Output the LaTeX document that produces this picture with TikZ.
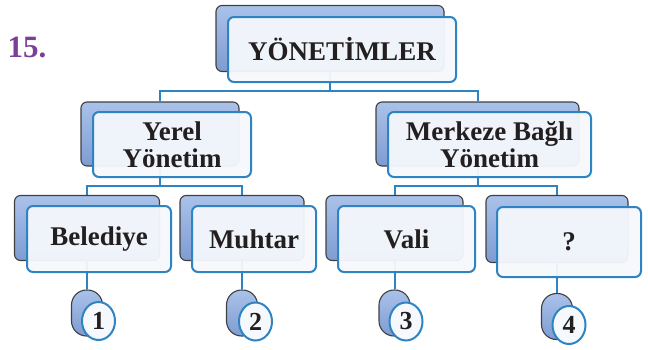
\documentclass[tikz,border=0pt]{standalone}
\usepackage{fontspec}
\setmainfont{Liberation Serif}
\usetikzlibrary{backgrounds}
\definecolor{ramka}{RGB}{46,132,195}
\definecolor{arkaust}{RGB}{170,194,234}
\definecolor{arkaalt}{RGB}{126,156,210}
\definecolor{onzemin}{RGB}{245,248,252}
\definecolor{yazi}{RGB}{35,31,32}
\definecolor{mor}{RGB}{122,64,152}
\tikzset{
  arka/.style={draw=black!75, line width=1.1pt, rounded corners=6pt,
    top color=arkaust, bottom color=arkaalt, inner sep=0pt},
  on/.style={draw=ramka, line width=2pt, rounded corners=6pt, fill=onzemin,
    fill opacity=.95, text opacity=1, inner sep=0pt, text=yazi, align=center,
    font=\fontsize{27}{27}\selectfont\bfseries},
  arkadaire/.style={arka, rounded corners=15pt, minimum width=31pt, minimum height=46pt},
  ondaire/.style={on, ellipse, minimum width=33pt, minimum height=38pt, fill opacity=1,
    font=\fontsize{26}{26}\selectfont\bfseries},
  hat/.style={draw=ramka, line width=2pt}
}
\usetikzlibrary{shapes.geometric}
\begin{document}
\begin{tikzpicture}[x=1pt,y=-1pt]
        \useasboundingbox (0,0) rectangle (648,349);

        \node[text=mor, font=\fontsize{31}{31}\selectfont\bfseries] (soruno) at (27,47) {15.};

        % ust kutu
        \node[arka, minimum width=228pt, minimum height=66pt] (yonB) at (330,38.5) {};
        \node[on, minimum width=228pt, minimum height=65pt] (yon) at (342,49.5) {YÖNETİMLER};

        % ikinci sira
        \node[arka, minimum width=158pt, minimum height=64pt] (yerelB) at (160,134) {};
        \node[on, minimum width=158pt, minimum height=65pt] (yerel) at (172,144.5) {Yerel\\Yönetim};
        \node[arka, minimum width=203pt, minimum height=64pt] (merkezB) at (477.5,134) {};
        \node[on, minimum width=203pt, minimum height=65pt] (merkez) at (489.5,144.5) {Merkeze Bağlı\\Yönetim};

        % ucuncu sira
        \node[arka, minimum width=145pt, minimum height=65pt] (belB) at (87,228) {};
        \node[on, minimum width=144pt, minimum height=66pt] (bel) at (99,239) {Belediye};
        \node[arka, minimum width=124pt, minimum height=65pt] (muhB) at (242,228) {};
        \node[on, minimum width=124pt, minimum height=66pt] (muh) at (254,239) {Muhtar};
        \node[arka, minimum width=137pt, minimum height=65pt] (valiB) at (394.5,228) {};
        \node[on, minimum width=137pt, minimum height=66pt] (vali) at (406.5,239) {Vali};
        \node[arka, minimum width=142pt, minimum height=67pt] (soruB) at (557,229) {};
        \node[on, minimum width=144pt, minimum height=70pt] (soru) at (569,242) {?};

        % numaralar
        \node[arkadaire] (c1B) at (87,313) {};
        \node[ondaire] (c1) at (98.5,321) {1};
        \node[arkadaire] (c2B) at (242,313) {};
        \node[ondaire] (c2) at (255.5,321.5) {2};
        \node[arkadaire] (c3B) at (394.5,313) {};
        \node[ondaire] (c3) at (406,321.5) {3};
        \node[arkadaire] (c4B) at (557,316.5) {};
        \node[ondaire] (c4) at (569,325) {4};

        \coordinate (bar1) at (0,91);
        \coordinate (bar2) at (0,186);

        \begin{scope}[on background layer]
        \draw[hat] (yonB.south) |- (bar1 -| yerelB) -- (yerelB.north);
        \draw[hat] (yonB.south) |- (bar1 -| merkezB) -- (merkezB.north);
        \draw[hat] (yerelB.south) |- (bar2 -| belB) -- (belB.north);
        \draw[hat] (yerelB.south) |- (bar2 -| muhB) -- (muhB.north);
        \draw[hat] (merkezB.south) |- (bar2 -| valiB) -- (valiB.north);
        \draw[hat] (merkezB.south) |- (bar2 -| soruB) -- (soruB.north);
        \draw[hat] (belB.south) -- (c1B.north);
        \draw[hat] (muhB.south) -- (c2B.north);
        \draw[hat] (valiB.south) -- (c3B.north);
        \draw[hat] (soruB.south) -- (c4B.north);
        \end{scope}

    \end{tikzpicture}
\end{document}
